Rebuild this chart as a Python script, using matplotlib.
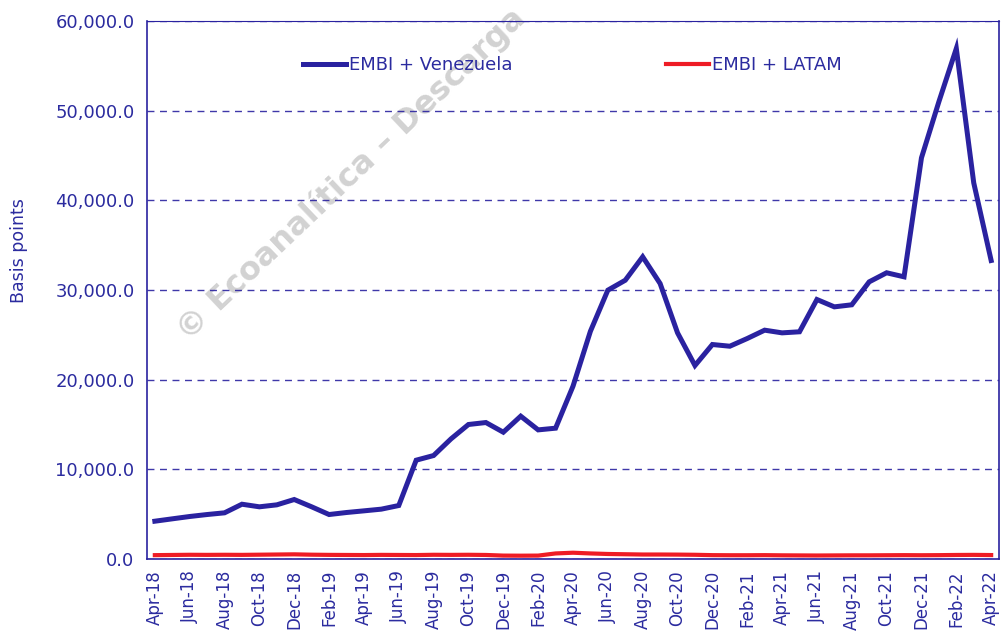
import matplotlib
matplotlib.use("Agg")
import matplotlib.pyplot as plt
from matplotlib.ticker import FuncFormatter

plt.rcParams['font.family'] = ['DejaVu Sans']

months = ["Apr-18", "May-18", "Jun-18", "Jul-18", "Aug-18", "Sep-18", "Oct-18", "Nov-18", "Dec-18",
          "Jan-19", "Feb-19", "Mar-19", "Apr-19", "May-19", "Jun-19", "Jul-19", "Aug-19", "Sep-19",
          "Oct-19", "Nov-19", "Dec-19", "Jan-20", "Feb-20", "Mar-20", "Apr-20", "May-20", "Jun-20",
          "Jul-20", "Aug-20", "Sep-20", "Oct-20", "Nov-20", "Dec-20", "Jan-21", "Feb-21", "Mar-21",
          "Apr-21", "May-21", "Jun-21", "Jul-21", "Aug-21", "Sep-21", "Oct-21", "Nov-21", "Dec-21",
          "Jan-22", "Feb-22", "Mar-22", "Apr-22"]

embi_venezuela = [4215, 4480, 4740, 4960, 5150, 6110, 5820, 6040, 6635,
                  5820, 4960, 5185, 5370, 5560, 5965, 11020, 11540, 13400,
                  15000, 15220, 14140, 15930, 14400, 14590, 19270, 25400, 29980,
                  31090, 33700, 30720, 25220, 21580, 23920, 23730, 24590, 25520,
                  25220, 25340, 28940, 28120, 28350, 30910, 31920, 31470, 44740,
                  51000, 56930, 41950, 33290]

embi_latam = [430, 450, 470, 460, 470, 460, 480, 500, 520,
              480, 460, 450, 440, 460, 450, 440, 470, 460,
              470, 450, 380, 370, 380, 620, 700, 620, 560,
              530, 500, 500, 490, 470, 430, 420, 420, 430,
              410, 400, 390, 400, 410, 410, 420, 430, 420,
              430, 450, 460, 440]

yticks = [0, 10000, 20000, 30000, 40000, 50000, 60000]

BLUE = "#2A22A0"
RED = "#EE1C25"
TXT = "#2B2B9F"

fig = plt.figure(figsize=(10.06, 6.37), dpi=100)
ax = fig.add_axes([147/1006, 1-559/637, (999-147)/1006, (559-21)/637])

x = list(range(len(months)))
ax.plot(x, embi_venezuela, color=BLUE, lw=3.6, label="EMBI + Venezuela", solid_joinstyle='miter', zorder=3)
ax.plot(x, embi_latam, color=RED, lw=3.0, label="EMBI + LATAM", zorder=3)

ax.set_xlim(-0.45, 48.45)
ax.set_ylim(0, 60000)
ax.set_yticks(yticks)
ax.yaxis.set_major_formatter(FuncFormatter(lambda v, p: f"{v:,.1f}"))
ax.set_xticks(x[::2])
ax.set_xticklabels(months[::2], rotation=90, fontsize=12, color=TXT)
ax.tick_params(axis='y', length=0, labelsize=13, labelcolor=TXT, pad=9)
ax.tick_params(axis='x', length=0, pad=8)

ax.grid(axis='y', color=BLUE, linestyle=(0, (5, 4)), lw=1.0, alpha=0.9, zorder=1)
for s in ax.spines.values():
    s.set_color(BLUE)
    s.set_linewidth(1.2)
ax.spines['top'].set_linewidth(0.8)

ax.set_ylabel("Basis points", fontsize=12.5, color=TXT)
ax.yaxis.set_label_coords(-0.14, 0.574)

ax.text(0.192, 0.456, "© Ecoanalítica – Descarga", transform=fig.transFigure, rotation=43.5,
        fontsize=23, fontweight='bold', color="#D2D2D2", ha='left', va='bottom',
        rotation_mode='anchor', zorder=0.5, clip_on=False)

leg = fig.legend(loc='center left', bbox_to_anchor=(303/1006, 1-65/637), ncol=2, frameon=False,
                 fontsize=13, handlelength=2.4, handletextpad=0.15, columnspacing=8.5,
                 borderpad=0, borderaxespad=0)
for t in leg.get_texts():
    t.set_color(TXT)

fig.savefig("out.png", dpi=100)
